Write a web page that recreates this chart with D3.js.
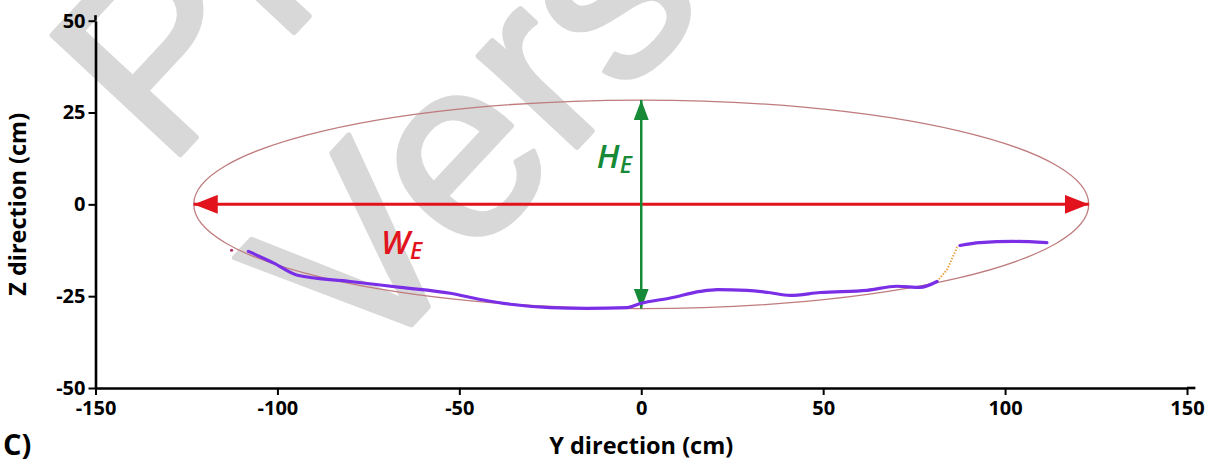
<!DOCTYPE html>
<html>
<head>
<meta charset="utf-8">
<script src="https://cdn.jsdelivr.net/npm/d3@7"></script>
<style>
  html, body { margin: 0; padding: 0; background: #fff; }
  svg { display: block; }
</style>
</head>
<body>
<svg id="chart" width="1210" height="462"></svg>
<script>
// ---- data ----
const xTicks = [-150, -100, -50, 0, 50, 100, 150];
const yTicks = [-50, -25, 0, 25, 50];
const xLabel = "Y direction (cm)";
const yLabel = "Z direction (cm)";
const panelLabel = "C)";
const watermarkLines = ["Pre-Print", "Version"];

// trajectory (Y, Z) in cm
const trajY = [-108.0, -101.0, -94.5, -80.0, -66.2, -52.5, -44.2, -36.0, -25.0, -15.0, -3.8, -0.3, 8.0, 16.2, 20.9, 29.1, 35.0, 40.9, 49.2, 62.1, 70.3, 76.6, 81.3];
const trajZ = [-12.8, -16.0, -19.3, -21.0, -22.6, -24.2, -25.9, -27.2, -28.1, -28.3, -28.1, -27.0, -25.5, -23.7, -23.2, -23.4, -24.0, -24.8, -24.0, -23.4, -22.3, -22.6, -21.0];
// dotted transition segment
const jumpY = [81.3, 84.1, 86.8, 87.6];
const jumpZ = [-21.0, -17.7, -11.7, -11.2];
// upper plateau
const topY = [87.6, 93.1, 102.2, 111.5];
const topZ = [-11.2, -10.4, -10.1, -10.4];
// stray point
const strayY = [-112.6];
const strayZ = [-12.5];

// fitted ellipse (centre, semi-axes) in cm
const ellipseCenter = [0, 0];
const ellipseSemi = [123, 28.4];

// ---- setup ----
const svg = d3.select("#chart");
const x = d3.scaleLinear().domain([-150, 150]).range([95.5, 1187]);
const y = d3.scaleLinear().domain([-50, 50]).range([388, 20.7]);

const defs = svg.append("defs");
function marker(id, color, len, wid) {
  defs.append("marker")
    .attr("id", id)
    .attr("markerUnits", "userSpaceOnUse")
    .attr("viewBox", `0 0 ${len} ${wid}`)
    .attr("refX", len).attr("refY", wid / 2)
    .attr("markerWidth", len).attr("markerHeight", wid)
    .attr("orient", "auto-start-reverse")
    .append("path")
    .attr("d", `M0,0 L${len},${wid / 2} L0,${wid} Z`)
    .attr("fill", color);
}
marker("arrRed", "#e2131c", 24, 19);
marker("arrGreen", "#168a36", 20, 15);

// ---- watermark ----
const wm = svg.append("g").attr("fill", "#d8d8d8")
  .attr("stroke", "#d8d8d8").attr("stroke-width", 5).attr("stroke-linejoin", "round")
  .style("font-family", "'Liberation Sans', Arial, sans-serif")
  .style("font-weight", 400)
  .style("font-size", "255px");
wm.append("text").attr("transform", "translate(166,170) rotate(-47)").text(watermarkLines[0]);
wm.append("text").attr("transform", "translate(362,378) rotate(-47)").text(watermarkLines[1]);

// ---- ellipse ----
svg.append("ellipse")
  .attr("cx", x(ellipseCenter[0]))
  .attr("cy", y(ellipseCenter[1]))
  .attr("rx", x(ellipseSemi[0]) - x(0))
  .attr("ry", y(0) - y(ellipseSemi[1]))
  .attr("fill", "none")
  .attr("stroke", "#bf7b7d")
  .attr("stroke-width", 1.3);

// ---- width arrow ----
svg.append("line")
  .attr("x1", x(-ellipseSemi[0])).attr("x2", x(ellipseSemi[0]))
  .attr("y1", y(0)).attr("y2", y(0))
  .attr("stroke", "#e2131c").attr("stroke-width", 3)
  .attr("marker-start", "url(#arrRed)")
  .attr("marker-end", "url(#arrRed)");

// ---- height arrow ----
svg.append("line")
  .attr("x1", x(0)).attr("x2", x(0))
  .attr("y1", y(-ellipseSemi[1])).attr("y2", y(ellipseSemi[1]))
  .attr("stroke", "#168a36").attr("stroke-width", 2.5)
  .attr("marker-start", "url(#arrGreen)")
  .attr("marker-end", "url(#arrGreen)");

// ---- trajectory ----
const line = d3.line().x(d => x(d[0])).y(d => y(d[1])).curve(d3.curveMonotoneX);
svg.append("path")
  .datum(d3.zip(jumpY, jumpZ))
  .attr("d", d3.line().x(d => x(d[0])).y(d => y(d[1])))
  .attr("fill", "none").attr("stroke", "#e8a040").attr("stroke-width", 2)
  .attr("stroke-dasharray", "1.5,1.5");
svg.append("path")
  .datum(d3.zip(trajY, trajZ))
  .attr("d", line)
  .attr("fill", "none").attr("stroke", "#7a2fe6").attr("stroke-width", 3.2)
  .attr("stroke-linejoin", "round").attr("stroke-linecap", "round");
svg.append("path")
  .datum(d3.zip(topY, topZ))
  .attr("d", line)
  .attr("fill", "none").attr("stroke", "#7a2fe6").attr("stroke-width", 3.2)
  .attr("stroke-linejoin", "round").attr("stroke-linecap", "round");
svg.selectAll("circle.stray").data(d3.zip(strayY, strayZ)).enter()
  .append("circle").attr("class", "stray")
  .attr("cx", d => x(d[0])).attr("cy", d => y(d[1])).attr("r", 1.6)
  .attr("fill", "#b0306a");

// ---- labels H_E, W_E ----
function subLabel(xv, yv, main, sub, color) {
  const t = svg.append("text")
    .attr("x", x(xv)).attr("y", y(yv))
    .attr("fill", color)
    .style("font-family", "'Open Sans', sans-serif")
    .style("font-style", "italic")
    .style("font-weight", 600)
    .style("font-size", "33px");
  t.append("tspan").text(main);
  t.append("tspan").attr("dy", 5).style("font-size", "23px").text(sub);
}
subLabel(-12.2, 10, "H", "E", "#168a36");
subLabel(-71.5, -13.5, "W", "E", "#e2131c");

// ---- axes ----
const axisFont = "'Open Sans', sans-serif";
const fmt = d => String(d);
const gx = svg.append("g").attr("transform", `translate(0,${y(-50)})`)
  .call(d3.axisBottom(x).tickValues(xTicks).tickFormat(fmt).tickSize(7).tickSizeOuter(0).tickPadding(6));
const gy = svg.append("g").attr("transform", `translate(${x(-150)},0)`)
  .call(d3.axisLeft(y).tickValues(yTicks).tickFormat(fmt).tickSize(7).tickSizeOuter(0).tickPadding(3));
[gx, gy].forEach(g => {
  g.select(".domain").attr("stroke", "#000").attr("stroke-width", 2.6);
  g.selectAll(".tick line").attr("stroke", "#000").attr("stroke-width", 2);
  g.selectAll(".tick text")
    .attr("fill", "#000")
    .style("font-family", axisFont)
    .style("font-weight", 700)
    .style("font-size", "20px");
});
// small overshoot of axis lines past the last ticks
svg.append("line").attr("x1", x(150)).attr("x2", x(152.3))
  .attr("y1", y(-50)).attr("y2", y(-50)).attr("stroke", "#000").attr("stroke-width", 2.6);
svg.append("line").attr("x1", x(-150)).attr("x2", x(-150))
  .attr("y1", y(50)).attr("y2", y(51.5)).attr("stroke", "#000").attr("stroke-width", 2.6);

svg.append("text")
  .attr("x", x(0)).attr("y", 454)
  .attr("text-anchor", "middle")
  .style("font-family", axisFont).style("font-weight", 700).style("font-size", "23.5px")
  .text(xLabel);
svg.append("text")
  .attr("transform", `translate(26,${y(0)}) rotate(-90)`)
  .attr("text-anchor", "middle")
  .style("font-family", axisFont).style("font-weight", 700).style("font-size", "23.5px")
  .text(yLabel);
svg.append("text")
  .attr("x", 3).attr("y", 455)
  .style("font-family", axisFont).style("font-weight", 700).style("font-size", "29px")
  .text(panelLabel);
</script>
</body>
</html>
